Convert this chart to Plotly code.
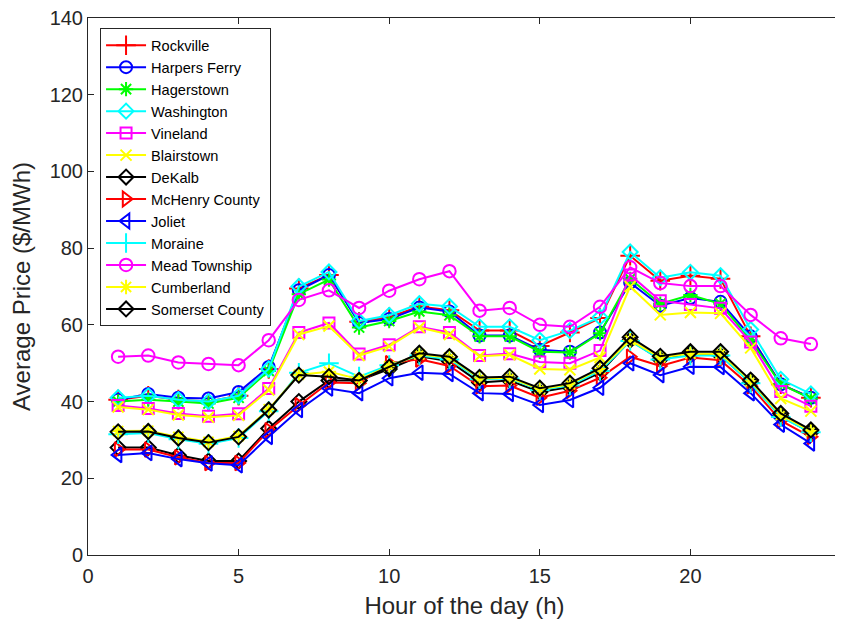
import plotly.graph_objects as go

hours = list(range(1, 25))

rockville = [40.5, 41.5, 40.5, 40.0, 41.5, 48.5, 69.5, 73.0, 60.8, 62.0, 64.8, 63.8,
             58.5, 58.5, 54.5, 58.0, 61.8, 78.0, 71.5, 72.8, 72.0, 57.0, 44.5, 41.0]
harpers_ferry = [40.5, 42.0, 41.0, 40.8, 42.5, 49.0, 69.0, 73.0, 60.5, 61.5, 64.5, 63.5,
                 57.2, 57.2, 53.5, 53.0, 58.0, 71.0, 65.0, 67.0, 66.0, 57.0, 44.5, 41.0]
hagerstown = [40.0, 40.5, 40.0, 39.5, 41.0, 48.0, 68.0, 71.8, 59.3, 61.0, 63.5, 62.5,
              57.0, 57.0, 53.0, 52.8, 57.8, 72.0, 65.5, 67.8, 65.5, 56.0, 44.5, 40.8]
washington = [41.0, 41.5, 40.5, 40.0, 41.5, 48.5, 70.0, 73.8, 61.0, 62.5, 65.5, 64.8,
              59.5, 59.5, 56.0, 58.5, 62.0, 79.0, 72.3, 73.7, 72.8, 58.8, 45.8, 42.0]
vineland = [39.0, 38.2, 36.9, 36.2, 36.8, 43.4, 58.0, 60.5, 52.4, 54.8, 59.5, 58.0,
            52.0, 52.5, 50.3, 50.0, 53.3, 73.0, 66.3, 65.3, 64.3, 55.5, 42.6, 38.8]
blairstown = [38.6, 37.9, 36.5, 35.9, 36.4, 43.0, 57.5, 59.7, 52.0, 54.4, 59.3, 57.5,
              51.8, 52.2, 48.5, 48.3, 51.5, 70.0, 62.6, 63.2, 63.0, 54.0, 40.8, 37.5]
dekalb = [28.0, 28.0, 26.0, 24.5, 24.5, 33.0, 40.0, 45.5, 45.5, 48.5, 51.8, 50.5,
          45.0, 45.5, 42.5, 43.8, 47.5, 56.0, 51.0, 52.5, 52.0, 45.0, 36.2, 32.0]
mchenry = [27.5, 27.5, 25.5, 24.0, 24.0, 32.5, 39.0, 45.0, 44.8, 50.0, 51.0, 49.3,
           44.0, 44.2, 41.0, 42.8, 46.2, 51.7, 49.3, 51.5, 50.8, 44.0, 35.0, 30.8]
joliet = [26.1, 26.6, 25.0, 23.9, 23.4, 30.8, 37.8, 43.4, 42.2, 46.1, 47.5, 47.2,
          42.2, 42.0, 39.1, 40.4, 43.6, 50.0, 46.9, 49.1, 49.0, 42.2, 34.0, 29.1]
moraine = [31.5, 31.8, 30.2, 29.0, 30.5, 37.5, 47.5, 50.0, 46.5, 49.5, 52.0, 51.0,
           45.8, 46.0, 43.0, 44.2, 48.0, 55.8, 51.0, 52.0, 52.0, 44.8, 36.0, 32.0]
mead_township = [51.7, 52.0, 50.2, 49.8, 49.5, 56.0, 66.5, 69.0, 64.4, 68.9, 71.9, 74.0,
                 63.7, 64.4, 60.0, 59.5, 64.7, 75.0, 70.9, 70.1, 70.1, 62.6, 56.5, 55.0]
cumberland = [32.3, 32.4, 30.8, 29.5, 31.0, 38.0, 47.0, 47.8, 45.8, 49.2, 52.3, 51.5,
              46.0, 46.2, 43.2, 44.5, 48.5, 56.0, 51.5, 52.5, 52.5, 45.3, 36.5, 32.3]
somerset_county = [32.1, 32.2, 30.5, 29.3, 30.8, 37.8, 46.9, 46.5, 45.5, 49.0, 52.6, 51.7,
                   46.3, 46.5, 43.5, 44.8, 48.7, 56.8, 51.8, 53.0, 53.0, 45.6, 36.9, 32.6]

series = [
    ("Rockville", rockville, "#ff0000", "cross-thin-open", 14),
    ("Harpers Ferry", harpers_ferry, "#0000ff", "circle-open", 12),
    ("Hagerstown", hagerstown, "#00ff00", "asterisk-open", 12),
    ("Washington", washington, "#00ffff", "diamond-open", 11.5),
    ("Vineland", vineland, "#ff00ff", "square-open", 11),
    ("Blairstown", blairstown, "#ffff00", "x-thin-open", 11),
    ("DeKalb", dekalb, "#000000", "diamond-open", 11.5),
    ("McHenry County", mchenry, "#ff0000", "triangle-right-open", 13),
    ("Joliet", joliet, "#0000ff", "triangle-left-open", 13),
    ("Moraine", moraine, "#00ffff", "cross-thin-open", 14),
    ("Mead Township", mead_township, "#ff00ff", "circle-open", 12.5),
    ("Cumberland", cumberland, "#ffff00", "asterisk-open", 12),
    ("Somerset County", somerset_county, "#000000", "diamond-open", 11.5),
]

fig = go.Figure()
for name, vals, color, sym, size in series:
    fig.add_trace(go.Scatter(
        x=hours, y=vals, name=name, mode="lines+markers",
        line=dict(color=color, width=2),
        marker=dict(symbol=sym, size=size, color=color, line=dict(color=color, width=2)),
    ))

axis_common = dict(
    showline=True, linecolor="#262626", linewidth=1, mirror="ticks",
    ticks="inside", ticklen=6, tickcolor="#262626", showgrid=False, zeroline=False,
    automargin=False, ticklabeloverflow="allow",
    tickfont=dict(family="Liberation Sans, Arial, sans-serif", size=20, color="#262626"),
)

fig.update_layout(
    width=835, height=618,
    margin=dict(l=80, r=2, t=10, b=71),
    paper_bgcolor="white", plot_bgcolor="white",
    font=dict(family="Liberation Sans, Arial, sans-serif", color="#262626"),
    xaxis=dict(range=[0, 25], tickvals=[0, 5, 10, 15, 20], ticklabelstandoff=3,
               title=dict(text="Hour of the day (h)", font=dict(size=24), standoff=11),
               **axis_common),
    yaxis=dict(range=[0, 140], tickvals=[0, 20, 40, 60, 80, 100, 120, 140],
               title=dict(text="Average Price ($/MWh)", font=dict(size=24), standoff=12),
               **axis_common),
    legend=dict(x=0.016, y=0.981, xanchor="left", yanchor="top",
                bgcolor="white", bordercolor="#262626", borderwidth=1,
                font=dict(size=14.6, color="#000000"), itemwidth=40,
                tracegroupgap=0),
    showlegend=True,
)

fig.write_html("out.html")
